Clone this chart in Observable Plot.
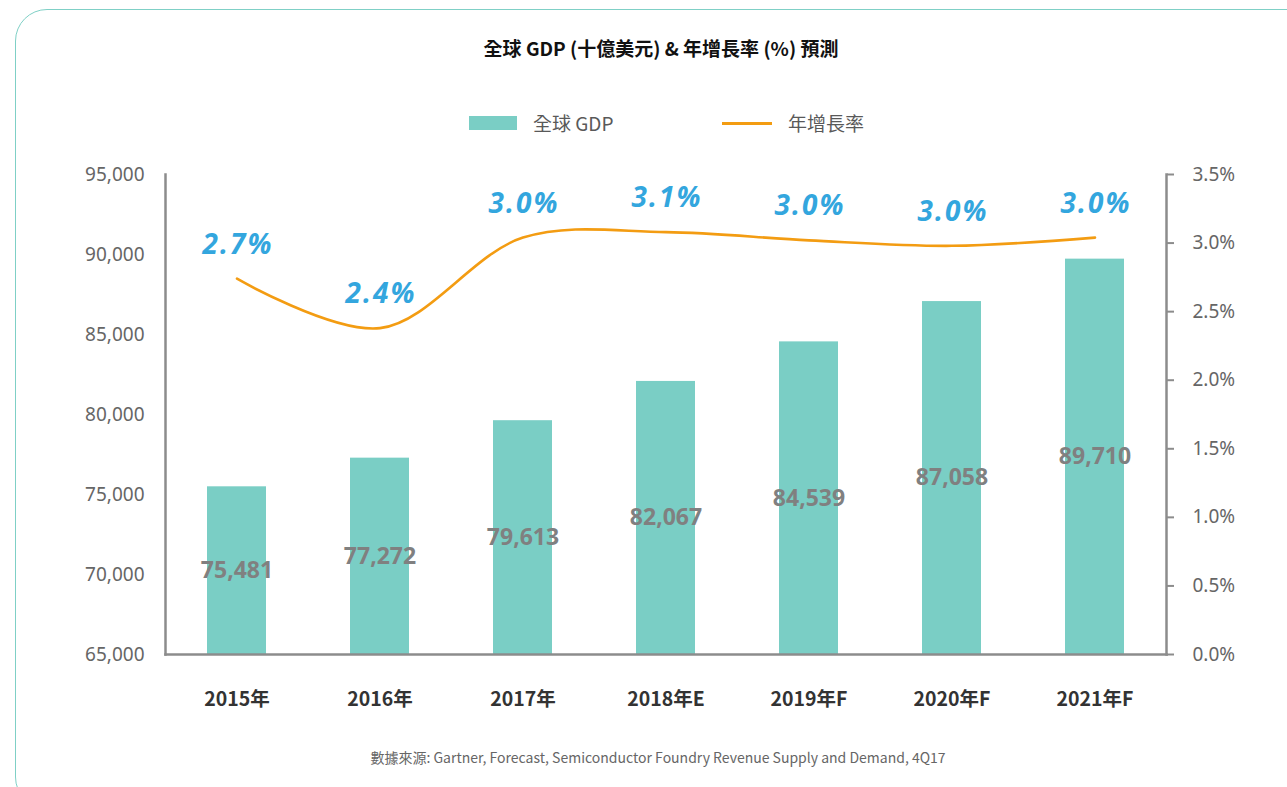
<!DOCTYPE html>
<html>
<head>
<meta charset="utf-8">
<script src="https://cdn.jsdelivr.net/npm/d3@7"></script>
<script src="https://cdn.jsdelivr.net/npm/@observablehq/plot@0.6"></script>
<style>
  html, body { margin: 0; padding: 0; background: #fff; width: 1287px; height: 787px; overflow: hidden; position: relative; font-family: "Noto Sans", "Noto Sans CJK TC", sans-serif; }
  .frame { position: absolute; left: 15px; top: 9px; width: 1320px; height: 800px; border: 1.5px solid #7fd0c6; border-radius: 32px; box-sizing: border-box; }
  .title { position: absolute; left: 261px; width: 800px; top: 35px; text-align: center; font-family: "Noto Sans CJK TC", sans-serif; font-weight: 700; font-size: 19px; color: #111; line-height: 26px; }
  .legend { position: absolute; top: 110px; font-family: "Noto Sans CJK TC", sans-serif; font-size: 19px; color: #595959; line-height: 26px; }
  .swatch { position: absolute; }
  .caption { position: absolute; left: 258px; width: 800px; top: 747px; text-align: center; font-family: "Noto Sans CJK TC", sans-serif; font-size: 14px; color: #666; line-height: 20px; }
  #chart { position: absolute; left: 0; top: 140px; }
</style>
</head>
<body>
<div class="frame"></div>
<div class="title">全球 GDP (十億美元) &amp; 年增長率 (%) 預測</div>
<div class="swatch" style="left:469px; top:116px; width:48px; height:14px; background:#7acec5;"></div>
<div class="legend" style="left:533px;">全球 GDP</div>
<div class="swatch" style="left:722px; top:121.5px; width:50px; height:3px; background:#f39c12;"></div>
<div class="legend" style="left:788px;">年增長率</div>
<div id="chart"></div>
<div class="caption">數據來源: Gartner, Forecast, Semiconductor Foundry Revenue Supply and Demand, 4Q17</div>
<script>
const years = ["2015年", "2016年", "2017年", "2018年E", "2019年F", "2020年F", "2021年F"];
const gdp = [75481, 77272, 79613, 82067, 84539, 87058, 89710];
const growth = [2.74, 2.38, 3.04, 3.08, 3.02, 2.98, 3.04];
const growthLabels = ["2.7%", "2.4%", "3.0%", "3.1%", "3.0%", "3.0%", "3.0%"];
const leftTicks = [65000, 70000, 75000, 80000, 85000, 90000, 95000];
const rightTicks = [0, 0.5, 1, 1.5, 2, 2.5, 3, 3.5];

const yMin = 65000, yMax = 95000, gMax = 3.5;
const toLeft = g => yMin + g / gMax * (yMax - yMin);

const data = years.map((y, i) => ({
  year: y, gdp: gdp[i], growth: growth[i], gy: toLeft(growth[i]), label: growthLabels[i],
  mid: (gdp[i] + yMin) / 2, gdpLabel: d3.format(",")(gdp[i])
}));

const axisColor = "#8c8c8c";
const growthColor = "#33a6de";
const chart = Plot.plot({
  width: 1287,
  height: 600,
  marginLeft: 165,
  marginRight: 121,
  marginTop: 34,
  marginBottom: 86,
  style: { fontFamily: "Noto Sans, sans-serif", background: "transparent", overflow: "visible" },
  x: { domain: years, paddingInner: 0.59, paddingOuter: 0.295, label: null },
  y: { domain: [yMin, yMax], label: null },
  marks: [
    Plot.barY(data, { x: "year", y1: yMin, y2: "gdp", fill: "#7acec5" }),
    Plot.text(data, { x: "year", y: "mid", text: "gdpLabel", fill: "#808080", fontSize: 23, fontWeight: "bold", fontFamily: "Noto Sans" }),
    Plot.line(data, { x: "year", y: "gy", stroke: "#f39c12", strokeWidth: 2.6, curve: "catmull-rom" }),
    Plot.text(data, { x: "year", y: "gy", text: "label", dy: -34, dx: 1, fill: growthColor, fontSize: 28, fontWeight: "bold", fontStyle: "italic", fontFamily: "Open Sans" }),
    Plot.axisY({ anchor: "left", ticks: leftTicks, tickSize: 0, tickPadding: 21, tickFormat: d3.format(","), fontSize: 19, color: "#666" , label: null}),
    Plot.axisY({ anchor: "right", ticks: rightTicks.map(toLeft), tickSize: 7, tickPadding: 19, stroke: axisColor, strokeWidth: 2,
      tickFormat: d => ((d - yMin) / (yMax - yMin) * gMax).toFixed(1) + "%", fontSize: 19, color: "#666", label: null }),
    Plot.axisX({ tickSize: 0, tickPadding: 38, fontSize: 19.5, fontWeight: "bold", fill: "#333", fontFamily: "Noto Sans CJK TC", label: null }),
    Plot.frame({ anchor: "left", stroke: axisColor, strokeWidth: 2.5 }),
    Plot.frame({ anchor: "right", stroke: axisColor, strokeWidth: 2.5 }),
    Plot.frame({ anchor: "bottom", stroke: axisColor, strokeWidth: 2.5 })
  ]
});
d3.select(chart).selectAll(`g[fill="${growthColor}"]`).attr("letter-spacing", "2px");
document.getElementById("chart").appendChild(chart);
</script>
</body>
</html>
